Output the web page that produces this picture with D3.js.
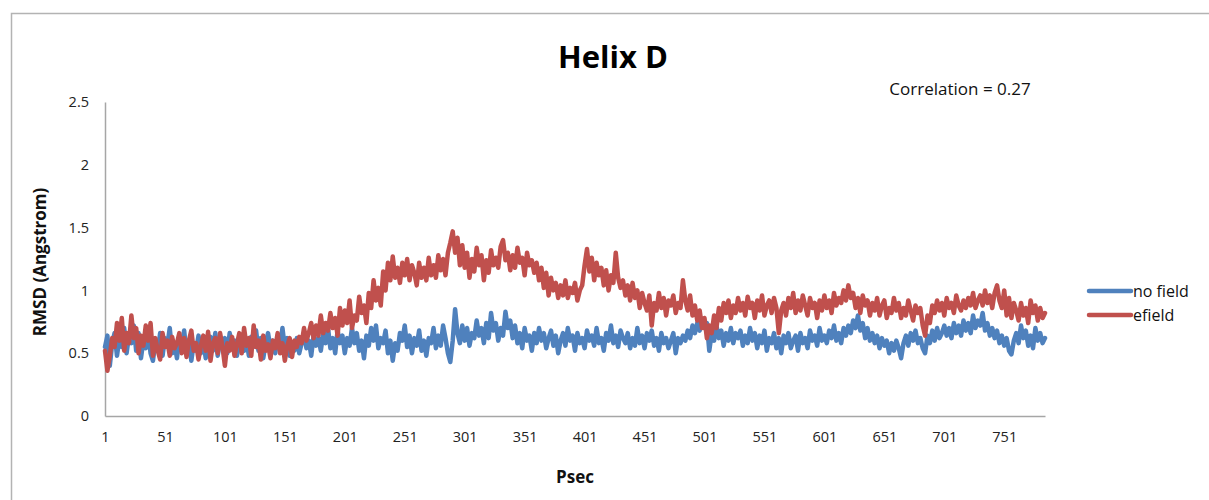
<!DOCTYPE html>
<html>
<head>
<meta charset="utf-8">
<script src="https://cdn.jsdelivr.net/npm/d3@7"></script>
<style>
  html, body { margin: 0; padding: 0; background: #fff; }
  svg { display: block; font-family: "Open Sans", "Lato", sans-serif; }
</style>
</head>
<body>
<svg id="chart" width="1209" height="500"></svg>
<script>
// RMSD of helix D over simulation time, one sample every 2 ps
const sampleStep = 2;
const lastPsec = 785;

const noField = [
  0.55,0.64,0.40,0.58,0.66,0.48,0.62,0.55,0.70,0.50,
  0.64,0.58,0.72,0.52,0.66,0.46,0.60,0.54,0.68,0.50,
  0.44,0.60,0.52,0.66,0.48,0.62,0.56,0.70,0.50,0.58,
  0.46,0.62,0.55,0.68,0.50,0.60,0.44,0.58,0.52,0.64,
  0.50,0.60,0.46,0.57,0.63,0.52,0.66,0.48,0.60,0.54,
  0.62,0.50,0.66,0.56,0.60,0.48,0.58,0.64,0.52,0.60,
  0.48,0.63,0.55,0.68,0.52,0.62,0.46,0.58,0.66,0.54,
  0.60,0.50,0.64,0.56,0.70,0.54,0.62,0.48,0.58,0.52,
  0.62,0.50,0.58,0.66,0.54,0.60,0.48,0.64,0.56,0.62,
  0.52,0.66,0.58,0.70,0.54,0.62,0.50,0.68,0.58,0.64,
  0.50,0.62,0.56,0.70,0.58,0.66,0.52,0.60,0.46,0.64,
  0.56,0.70,0.60,0.72,0.54,0.62,0.58,0.68,0.50,0.60,
  0.44,0.58,0.52,0.66,0.60,0.72,0.55,0.64,0.50,0.62,
  0.56,0.68,0.52,0.60,0.48,0.62,0.58,0.70,0.54,0.64,
  0.56,0.72,0.62,0.50,0.43,0.60,0.85,0.66,0.58,0.72,
  0.60,0.70,0.56,0.66,0.62,0.76,0.64,0.70,0.58,0.74,
  0.62,0.82,0.68,0.74,0.60,0.70,0.64,0.83,0.70,0.76,
  0.62,0.72,0.58,0.66,0.54,0.70,0.60,0.64,0.52,0.66,
  0.58,0.70,0.60,0.66,0.54,0.62,0.68,0.56,0.64,0.50,
  0.60,0.66,0.56,0.70,0.60,0.64,0.52,0.66,0.58,0.62,
  0.54,0.68,0.60,0.64,0.56,0.70,0.58,0.62,0.52,0.66,
  0.60,0.72,0.58,0.64,0.55,0.68,0.62,0.58,0.66,0.54,
  0.62,0.56,0.70,0.58,0.64,0.54,0.66,0.60,0.68,0.56,
  0.62,0.52,0.66,0.58,0.62,0.54,0.60,0.66,0.50,0.62,
  0.58,0.64,0.60,0.68,0.62,0.72,0.66,0.74,0.68,0.76,
  0.70,0.74,0.52,0.66,0.60,0.72,0.62,0.68,0.56,0.66,
  0.60,0.70,0.58,0.66,0.62,0.68,0.56,0.64,0.58,0.70,
  0.60,0.66,0.54,0.64,0.58,0.68,0.52,0.62,0.58,0.66,
  0.54,0.62,0.50,0.64,0.58,0.66,0.54,0.60,0.64,0.52,
  0.66,0.58,0.62,0.54,0.68,0.60,0.64,0.56,0.70,0.60,
  0.64,0.58,0.68,0.62,0.72,0.60,0.66,0.58,0.70,0.64,
  0.72,0.66,0.76,0.70,0.80,0.68,0.74,0.62,0.70,0.60,
  0.66,0.58,0.64,0.54,0.62,0.56,0.60,0.50,0.58,0.52,
  0.60,0.54,0.46,0.58,0.64,0.56,0.66,0.60,0.68,0.58,
  0.62,0.54,0.50,0.64,0.58,0.68,0.60,0.70,0.62,0.66,
  0.72,0.64,0.70,0.62,0.74,0.66,0.72,0.64,0.76,0.68,
  0.74,0.66,0.80,0.70,0.76,0.72,0.82,0.68,0.74,0.64,
  0.70,0.62,0.68,0.58,0.64,0.56,0.62,0.52,0.49,0.60,
  0.66,0.58,0.72,0.62,0.68,0.56,0.64,0.54,0.70,0.60,
  0.66,0.58,0.62
];

const eField = [
  0.52,0.36,0.48,0.62,0.55,0.74,0.60,0.78,0.52,0.66,
  0.58,0.80,0.62,0.70,0.50,0.64,0.56,0.72,0.60,0.74,
  0.48,0.62,0.52,0.45,0.66,0.55,0.60,0.48,0.63,0.54,
  0.58,0.66,0.50,0.62,0.47,0.60,0.68,0.52,0.58,0.45,
  0.56,0.64,0.52,0.67,0.44,0.58,0.62,0.50,0.66,0.55,
  0.40,0.58,0.52,0.63,0.48,0.57,0.66,0.50,0.70,0.56,
  0.62,0.48,0.72,0.55,0.60,0.45,0.64,0.52,0.57,0.46,
  0.60,0.54,0.66,0.50,0.58,0.44,0.56,0.62,0.47,0.60,
  0.55,0.63,0.58,0.70,0.60,0.66,0.74,0.62,0.72,0.64,
  0.80,0.66,0.74,0.68,0.82,0.70,0.78,0.64,0.86,0.72,
  0.84,0.74,0.92,0.70,0.80,0.76,0.95,0.82,0.88,0.74,
  0.98,0.86,1.08,0.92,1.02,0.88,1.15,1.00,1.22,1.08,
  1.27,1.10,1.18,1.06,1.22,1.12,1.25,1.08,1.20,1.14,
  1.04,1.22,1.10,1.18,1.08,1.26,1.12,1.20,1.10,1.28,
  1.16,1.25,1.12,1.30,1.38,1.47,1.30,1.42,1.20,1.36,
  1.18,1.30,1.10,1.25,1.15,1.34,1.20,1.28,1.08,1.24,
  1.14,1.32,1.20,1.26,1.18,1.35,1.40,1.24,1.30,1.16,
  1.28,1.18,1.34,1.22,1.26,1.12,1.30,1.20,1.24,1.14,
  1.22,1.08,1.18,1.02,1.14,0.96,1.10,1.00,1.06,0.94,
  1.04,0.96,1.08,0.94,1.02,0.98,1.06,0.92,1.00,1.04,
  1.20,1.33,1.15,1.26,1.08,1.22,1.12,1.18,1.04,1.16,
  1.00,1.12,1.06,1.30,1.10,1.02,1.08,0.96,1.04,0.92,
  1.06,0.94,1.00,0.86,0.98,0.90,0.84,0.96,0.72,0.90,
  0.84,0.98,0.86,0.94,0.80,0.92,0.88,0.96,0.82,0.90,
  0.86,1.08,0.92,0.84,0.96,0.80,0.88,0.76,0.84,0.70,
  0.78,0.62,0.72,0.66,0.80,0.70,0.86,0.76,0.90,0.82,
  0.92,0.78,0.88,0.82,0.94,0.84,0.90,0.80,0.95,0.86,
  0.90,0.78,0.92,0.84,0.96,0.80,0.88,0.92,0.82,0.94,
  0.86,0.66,0.84,0.90,0.80,0.94,0.86,0.98,0.82,0.92,
  0.84,0.96,0.88,0.80,0.94,0.86,0.90,0.78,0.92,0.84,
  0.96,0.86,0.92,0.82,0.98,0.88,0.94,0.90,1.00,0.92,
  1.04,0.94,0.98,0.86,0.94,0.82,0.96,0.88,0.92,0.80,
  0.90,0.84,0.94,0.80,0.88,0.92,0.78,0.86,0.82,0.94,
  0.84,0.90,0.78,0.86,0.80,0.92,0.84,0.76,0.88,0.82,
  0.86,0.72,0.64,0.80,0.74,0.88,0.82,0.92,0.84,0.90,
  0.80,0.94,0.86,0.90,0.82,0.96,0.88,0.84,0.92,0.86,
  0.94,0.88,0.98,0.86,0.92,0.96,0.88,1.00,0.90,0.96,
  0.86,0.98,1.04,0.92,0.86,1.00,0.80,0.94,0.78,0.90,
  0.84,0.76,0.90,0.80,0.86,0.74,0.92,0.82,0.88,0.76,
  0.86,0.78,0.82
];

const xTickLabels = [1, 51, 101, 151, 201, 251, 301, 351, 401, 451, 501, 551, 601, 651, 701, 751];
const yTickLabels = [0, 0.5, 1, 1.5, 2, 2.5];

const seriesNames = ["no field", "efield"];
const seriesColors = ["#4F81BD", "#C0504D"];

const svg = d3.select("#chart");

// outer chart frame
svg.append("path")
  .attr("d", "M11.5,510 V13.5 H1220")
  .attr("fill", "none")
  .attr("stroke", "#b3b3b3")
  .attr("stroke-width", 1.5);

const x = d3.scaleLinear().domain([1, lastPsec]).range([105, 1045]);
const y = d3.scaleLinear().domain([0, 2.5]).range([416, 102]);

// axes
const xAxis = d3.axisBottom(x).tickValues(xTickLabels).tickSize(0).tickPadding(16).tickFormat(d3.format("d"));
const yAxis = d3.axisLeft(y).tickValues(yTickLabels).tickSize(0).tickPadding(16).tickFormat(d => String(d));

const gx = svg.append("g").attr("transform", `translate(0,${y(0)})`).call(xAxis);
const gy = svg.append("g").attr("transform", `translate(${x(1)},0)`).call(yAxis);

[gx, gy].forEach(g => {
  g.select(".domain").attr("stroke", "#a6a6a6").attr("stroke-width", 1.5);
  g.selectAll(".tick text")
    .attr("fill", "#222")
    .style("font-size", "14.5px")
    .style("font-family", "'Open Sans', sans-serif");
});

// series lines
const psec = d3.range(noField.length).map(i => 1 + i * sampleStep);
const line = d3.line()
  .x((d, i) => x(psec[i]))
  .y(d => y(d));

[noField, eField].forEach((vals, k) => {
  svg.append("path")
    .datum(vals)
    .attr("d", line)
    .attr("fill", "none")
    .attr("stroke", seriesColors[k])
    .attr("stroke-width", 4.5)
    .attr("stroke-linejoin", "round")
    .attr("stroke-linecap", "round");
});

// title and annotation
svg.append("text")
  .attr("x", 613).attr("y", 68)
  .attr("text-anchor", "middle")
  .style("font-size", "31px").style("font-weight", "bold")
  .attr("fill", "#000")
  .text("Helix D");

svg.append("text")
  .attr("x", 960).attr("y", 95)
  .attr("text-anchor", "middle")
  .style("font-size", "17px")
  .attr("fill", "#111")
  .text("Correlation = 0.27");

// axis titles
svg.append("text")
  .attr("transform", "translate(46,262) rotate(-90)")
  .attr("text-anchor", "middle")
  .style("font-size", "17px").style("font-weight", "bold")
  .attr("fill", "#111")
  .text("RMSD (Angstrom)");

svg.append("text")
  .attr("x", 575).attr("y", 483)
  .attr("text-anchor", "middle")
  .style("font-size", "17px").style("font-weight", "bold")
  .attr("fill", "#111")
  .text("Psec");

// legend
const legend = svg.append("g").attr("transform", "translate(1089,291)");
seriesNames.forEach((name, k) => {
  const row = legend.append("g").attr("transform", `translate(0,${k * 24})`);
  row.append("line")
    .attr("x1", 0).attr("x2", 42).attr("y1", 0).attr("y2", 0)
    .attr("stroke", seriesColors[k]).attr("stroke-width", 4.5)
    .attr("stroke-linecap", "round");
  row.append("text")
    .attr("x", 44).attr("y", 0).attr("dy", "0.35em")
    .style("font-size", "16px")
    .attr("fill", "#111")
    .text(name);
});
</script>
</body>
</html>
